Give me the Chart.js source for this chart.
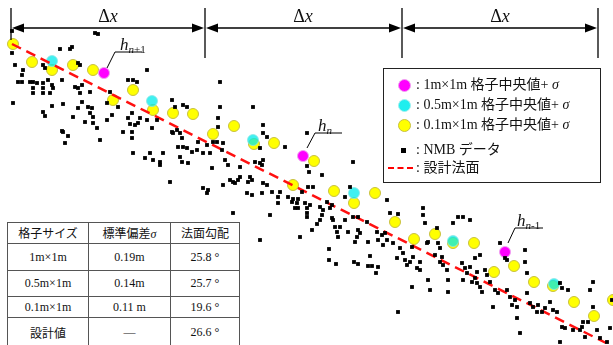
<!DOCTYPE html>
<html>
<head>
<meta charset="utf-8">
<script src="https://cdn.jsdelivr.net/npm/chart.js@4.4.0/dist/chart.umd.min.js"></script>
<style>
  body { margin: 0; width: 613px; height: 345px; overflow: hidden; position: relative; background: #fff;
         font-family: "Liberation Serif", "Noto Sans CJK JP", serif; color: #111; }
  #c { position: absolute; left: 0; top: 0; }
  .dx { position: absolute; top: 7px; font-size: 18px; line-height: 1; transform: translateX(-50%); }
  .h { position: absolute; font-size: 17px; line-height: 1; }
  .h sub { font-size: 11px; vertical-align: -3px; }
  #legend { position: absolute; left: 383px; top: 68px; width: 216px; height: 113px; border: 1px solid #222; background: #fff; }
  #legend .row { position: absolute; left: 0; font-size: 14px; line-height: 1; white-space: nowrap; }
  #legend .mk { position: absolute; left: 14px; width: 11px; height: 11px; border-radius: 50%; }
  #legend .tx { position: absolute; left: 32px; top: -7px; }
  table { position: absolute; left: 7px; top: 222px; border-collapse: collapse; background: #fff; font-size: 12px; }
  td { border: 1px solid #555; text-align: center; padding: 0; }
</style>
</head>
<body>
<canvas id="c" width="613" height="345"></canvas>

<div class="dx" style="left:108px">Δ<i>x</i></div>
<div class="dx" style="left:303px">Δ<i>x</i></div>
<div class="dx" style="left:500px">Δ<i>x</i></div>

<div class="h" style="left:120px;top:36px"><i>h</i><sub><i>n</i>+1</sub></div>
<div class="h" style="left:318px;top:117px"><i>h</i><sub><i>n</i></sub></div>
<div class="h" style="left:517px;top:212px"><i>h</i><sub><i>n</i>-1</sub></div>

<div id="legend">
  <div class="row" style="top:16px"><span class="mk" style="background:#ff00ff;border:1px solid #f0a0f0;top:-6px"></span><span class="tx">: 1m×1m 格子中央値+ <i>σ</i></span></div>
  <div class="row" style="top:36px"><span class="mk" style="background:#20eeee;border:1px solid #a0f0f0;top:-6px"></span><span class="tx">: 0.5m×1m 格子中央値+ <i>σ</i></span></div>
  <div class="row" style="top:56px"><span class="mk" style="background:#ffff00;border:1px solid #c8c040;top:-6px"></span><span class="tx">: 0.1m×1m 格子中央値+ <i>σ</i></span></div>
  <div class="row" style="top:81px"><span class="mk" style="background:#000;border-radius:0;width:5px;height:5px;left:17px;top:-2px"></span><span class="tx">: NMB データ</span></div>
  <div class="row" style="top:99px"><span style="position:absolute;left:4px;top:-1px;width:25px;border-top:2px dashed #ff0000"></span><span class="tx">: 設計法面</span></div>
</div>

<table>
  <tr style="height:21px"><td style="width:80px">格子サイズ</td><td style="width:81px">標準偏差<i>σ</i></td><td style="width:68px">法面勾配</td></tr>
  <tr style="height:27px"><td>1m×1m</td><td>0.19m</td><td>25.8 °</td></tr>
  <tr style="height:26px"><td>0.5m×1m</td><td>0.14m</td><td>25.7 °</td></tr>
  <tr style="height:21px"><td>0.1m×1m</td><td>0.11 m</td><td>19.6 °</td></tr>
  <tr style="height:30px"><td>設計値</td><td>—</td><td>26.6 °</td></tr>
</table>

<script>
// 水平距離 x, 標高 (下向き) y  — 画面から読み取り
const nmbPoints = [
  [12,31],[95,33],[98,34],[60,49],[70,49],[72,47],[12,53],[147,70],[15,65],[23,70],[22,75],[43,65],[45,68],
  [78,63],[80,65],[18,82],[22,82],[30,82],[33,82],[37,83],[43,83],[48,80],[52,85],[62,80],[75,87],[78,88],
  [82,85],[43,88],[33,88],[33,93],[43,93],[50,93],[53,88],[80,93],[90,92],[128,80],[133,80],[137,82],[110,92],
  [13,103],[52,106],[63,104],[82,102],[88,107],[92,108],[43,112],[45,116],[73,117],[85,122],[90,113],[93,117],
  [93,123],[97,128],[62,131],[63,132],[68,136],[65,143],[100,140],[107,120],[112,115],[107,103],[118,107],
  [128,118],[132,113],[130,124],[135,125],[138,123],[123,132],[132,132],[133,153],[132,138],[147,120],[145,158],
  [78,108],[140,118],
  [152,128],[157,120],[150,153],[153,160],[160,162],[163,153],[160,165],[170,182],[172,132],[173,133],[177,130],
  [180,133],[182,138],[178,147],[183,147],[187,148],[180,157],[182,162],[188,163],[192,152],[197,150],[203,153],
  [198,142],[207,145],[213,142],[210,153],[217,142],[218,118],[218,127],[220,107],[223,143],[225,160],[228,165],
  [222,150],[212,168],[203,188],[208,190],[207,193],[223,185],[172,100],[175,107],[183,105],[187,107],[220,82],
  [253,107],[263,125],[263,133],[267,137],[260,148],[285,147],
  [233,213],[230,180],[233,182],[238,180],[240,177],[235,183],[240,167],[248,182],[252,180],[250,177],[255,162],
  [260,163],[263,160],[262,165],[263,183],[267,185],[247,193],[252,195],[262,193],[272,192],[278,197],[280,192],
  [288,197],[292,202],[293,199],[298,199],[297,203],[298,208],[295,208],[270,215],[260,240],[278,203],
  [302,192],[308,187],[309,172],[307,166],[322,175],[307,133],[310,205],[307,208],[307,213],[307,217],[312,230],
  [300,237],[317,224],[320,220],[322,215],[327,202],[330,208],[332,205],[332,218],[335,227],[337,232],[338,237],
  [345,220],[348,232],[358,217],[358,230],[357,237],[353,162],[367,222],[368,242],[378,240],[382,235],[350,187],
  [345,197],[313,187],[329,249],[329,260],[336,264],[355,242],[354,262],[358,264],[368,266],[372,266],[378,267],
  [376,273],[370,256],[320,207],[323,210],[305,203],[333,220],[340,227],[353,217],[360,233],[377,232],[383,245],
  [387,200],[385,233],[387,240],[393,243],[400,248],[397,258],[403,253],[405,260],[412,247],[412,287],[398,312],
  [407,265],[410,262],[413,257],[417,268],[420,270],[420,262],[423,208],[423,215],[425,223],[427,243],[428,242],
  [428,280],[430,290],[435,255],[437,228],[438,243],[440,248],[442,257],[440,262],[443,265],[447,270],[448,280],
  [448,292],[453,223],[458,217],[463,217],[470,220],[462,263],[465,268],[467,273],[463,280],[472,282],[475,278],
  [477,283],[480,287],[482,292],[480,255],[475,258],[470,267],[477,272],[485,270],[487,275],[490,282],[493,307],
  [495,290],[498,293],[500,243],[505,258],[507,260],[507,290],[510,297],[512,305],[517,318],[517,307],[515,300],
  [520,333],[525,250],[525,262],[527,273],[527,293],[530,303],[533,307],[538,305],[537,312],[542,312],[545,308],
  [550,302],[553,310],[557,312],[560,283],[562,288],[562,327],[560,342],[565,328],[568,290],[573,330],[580,330],
  [582,327],[585,337],[583,322],[588,322],[590,290],[593,282],[593,307],[597,330],[600,338],[607,342],[610,328],
  [612,300],[390,213],[398,214]
];
const grid01Points = [
  [13,44],[32,62],[52,70],[73,65],[93,70],[113,100],[133,90],[153,110],[173,113],[193,114],[213,134],[234,126],
  [254,144],[274,143],[293,185],[314,161],[334,191],[354,203],[375,193],[395,222],[414,239],[435,234],[453,243],
  [474,243],[494,272],[514,266],[534,282],[553,286],[574,302],[594,316],[613,300]
];
const grid05Points = [[52,61],[152,101],[253,140],[354,193],[453,241],[554,284]];
const grid1Points = [[104,73],[303,156],[505,252]];
const designLine = [[12,44],[606,343]];

// Δx 区間と hn ラベルの引出線
const bracketX = [11, 205, 402, 598];
const leaders = [
  [[107,68],[115,52],[142,52]],
  [[307,148],[315,133],[342,133]],
  [[508,243],[515,228],[543,228]]
];

const toXY = arr => arr.map(p => ({ x: p[0], y: p[1] }));

const annotate = {
  id: 'annotate',
  afterDatasetsDraw(chart) {
    const { ctx, scales: { x, y } } = chart;
    ctx.save();
    ctx.strokeStyle = '#000';
    ctx.fillStyle = '#000';
    ctx.lineWidth = 1.3;
    const ay = y.getPixelForValue(28);
    bracketX.forEach((v, i) => {
      const px = x.getPixelForValue(v);
      ctx.beginPath();
      ctx.moveTo(px, y.getPixelForValue(8));
      ctx.lineTo(px, y.getPixelForValue(i === 0 ? 40 : 58));
      ctx.stroke();
    });
    for (let i = 0; i < bracketX.length - 1; i++) {
      const x0 = x.getPixelForValue(bracketX[i]) + 1;
      const x1 = x.getPixelForValue(bracketX[i + 1]) - 1;
      ctx.beginPath();
      ctx.moveTo(x0 + 8, ay);
      ctx.lineTo(x1 - 8, ay);
      ctx.stroke();
      ctx.beginPath();
      ctx.moveTo(x0, ay); ctx.lineTo(x0 + 12, ay - 4.5); ctx.lineTo(x0 + 12, ay + 4.5); ctx.closePath();
      ctx.fill();
      ctx.beginPath();
      ctx.moveTo(x1, ay); ctx.lineTo(x1 - 12, ay - 4.5); ctx.lineTo(x1 - 12, ay + 4.5); ctx.closePath();
      ctx.fill();
    }
    ctx.lineWidth = 1;
    leaders.forEach(pts => {
      ctx.beginPath();
      pts.forEach((p, k) => {
        const px = x.getPixelForValue(p[0]), py = y.getPixelForValue(p[1]);
        k ? ctx.lineTo(px, py) : ctx.moveTo(px, py);
      });
      ctx.stroke();
    });
    ctx.restore();
  }
};

new Chart(document.getElementById('c'), {
  type: 'scatter',
  data: {
    datasets: [
      {
        label: 'NMB',
        data: toXY(nmbPoints),
        pointStyle: 'rect',
        radius: 2.7,
        backgroundColor: '#000',
        borderWidth: 0,
        order: 0
      },
      {
        type: 'line',
        label: '設計法面',
        data: toXY(designLine),
        borderColor: '#ff1010',
        borderWidth: 2.5,
        borderDash: [10, 6],
        pointRadius: 0,
        order: 1
      },
      {
        label: '1m',
        data: toXY(grid1Points),
        radius: 5.5,
        backgroundColor: '#ff00ff',
        borderColor: '#f0a0f0',
        borderWidth: 1,
        order: 2
      },
      {
        label: '0.5m',
        data: toXY(grid05Points),
        radius: 5.5,
        backgroundColor: 'rgba(0,235,235,0.75)',
        borderColor: 'rgba(140,230,230,0.8)',
        borderWidth: 1,
        order: 2
      },
      {
        label: '0.1m',
        data: toXY(grid01Points),
        radius: 5.5,
        backgroundColor: '#ffff00',
        borderColor: '#c8c040',
        borderWidth: 1,
        order: 3
      }
    ]
  },
  options: {
    responsive: false,
    animation: false,
    clip: false,
    layout: { padding: 0, autoPadding: false },
    plugins: { legend: false, tooltip: { enabled: false } },
    scales: {
      x: { type: 'linear', min: 0, max: 613, display: false },
      y: { type: 'linear', min: 0, max: 345, reverse: true, display: false }
    }
  },
  plugins: [annotate]
});
</script>
</body>
</html>
